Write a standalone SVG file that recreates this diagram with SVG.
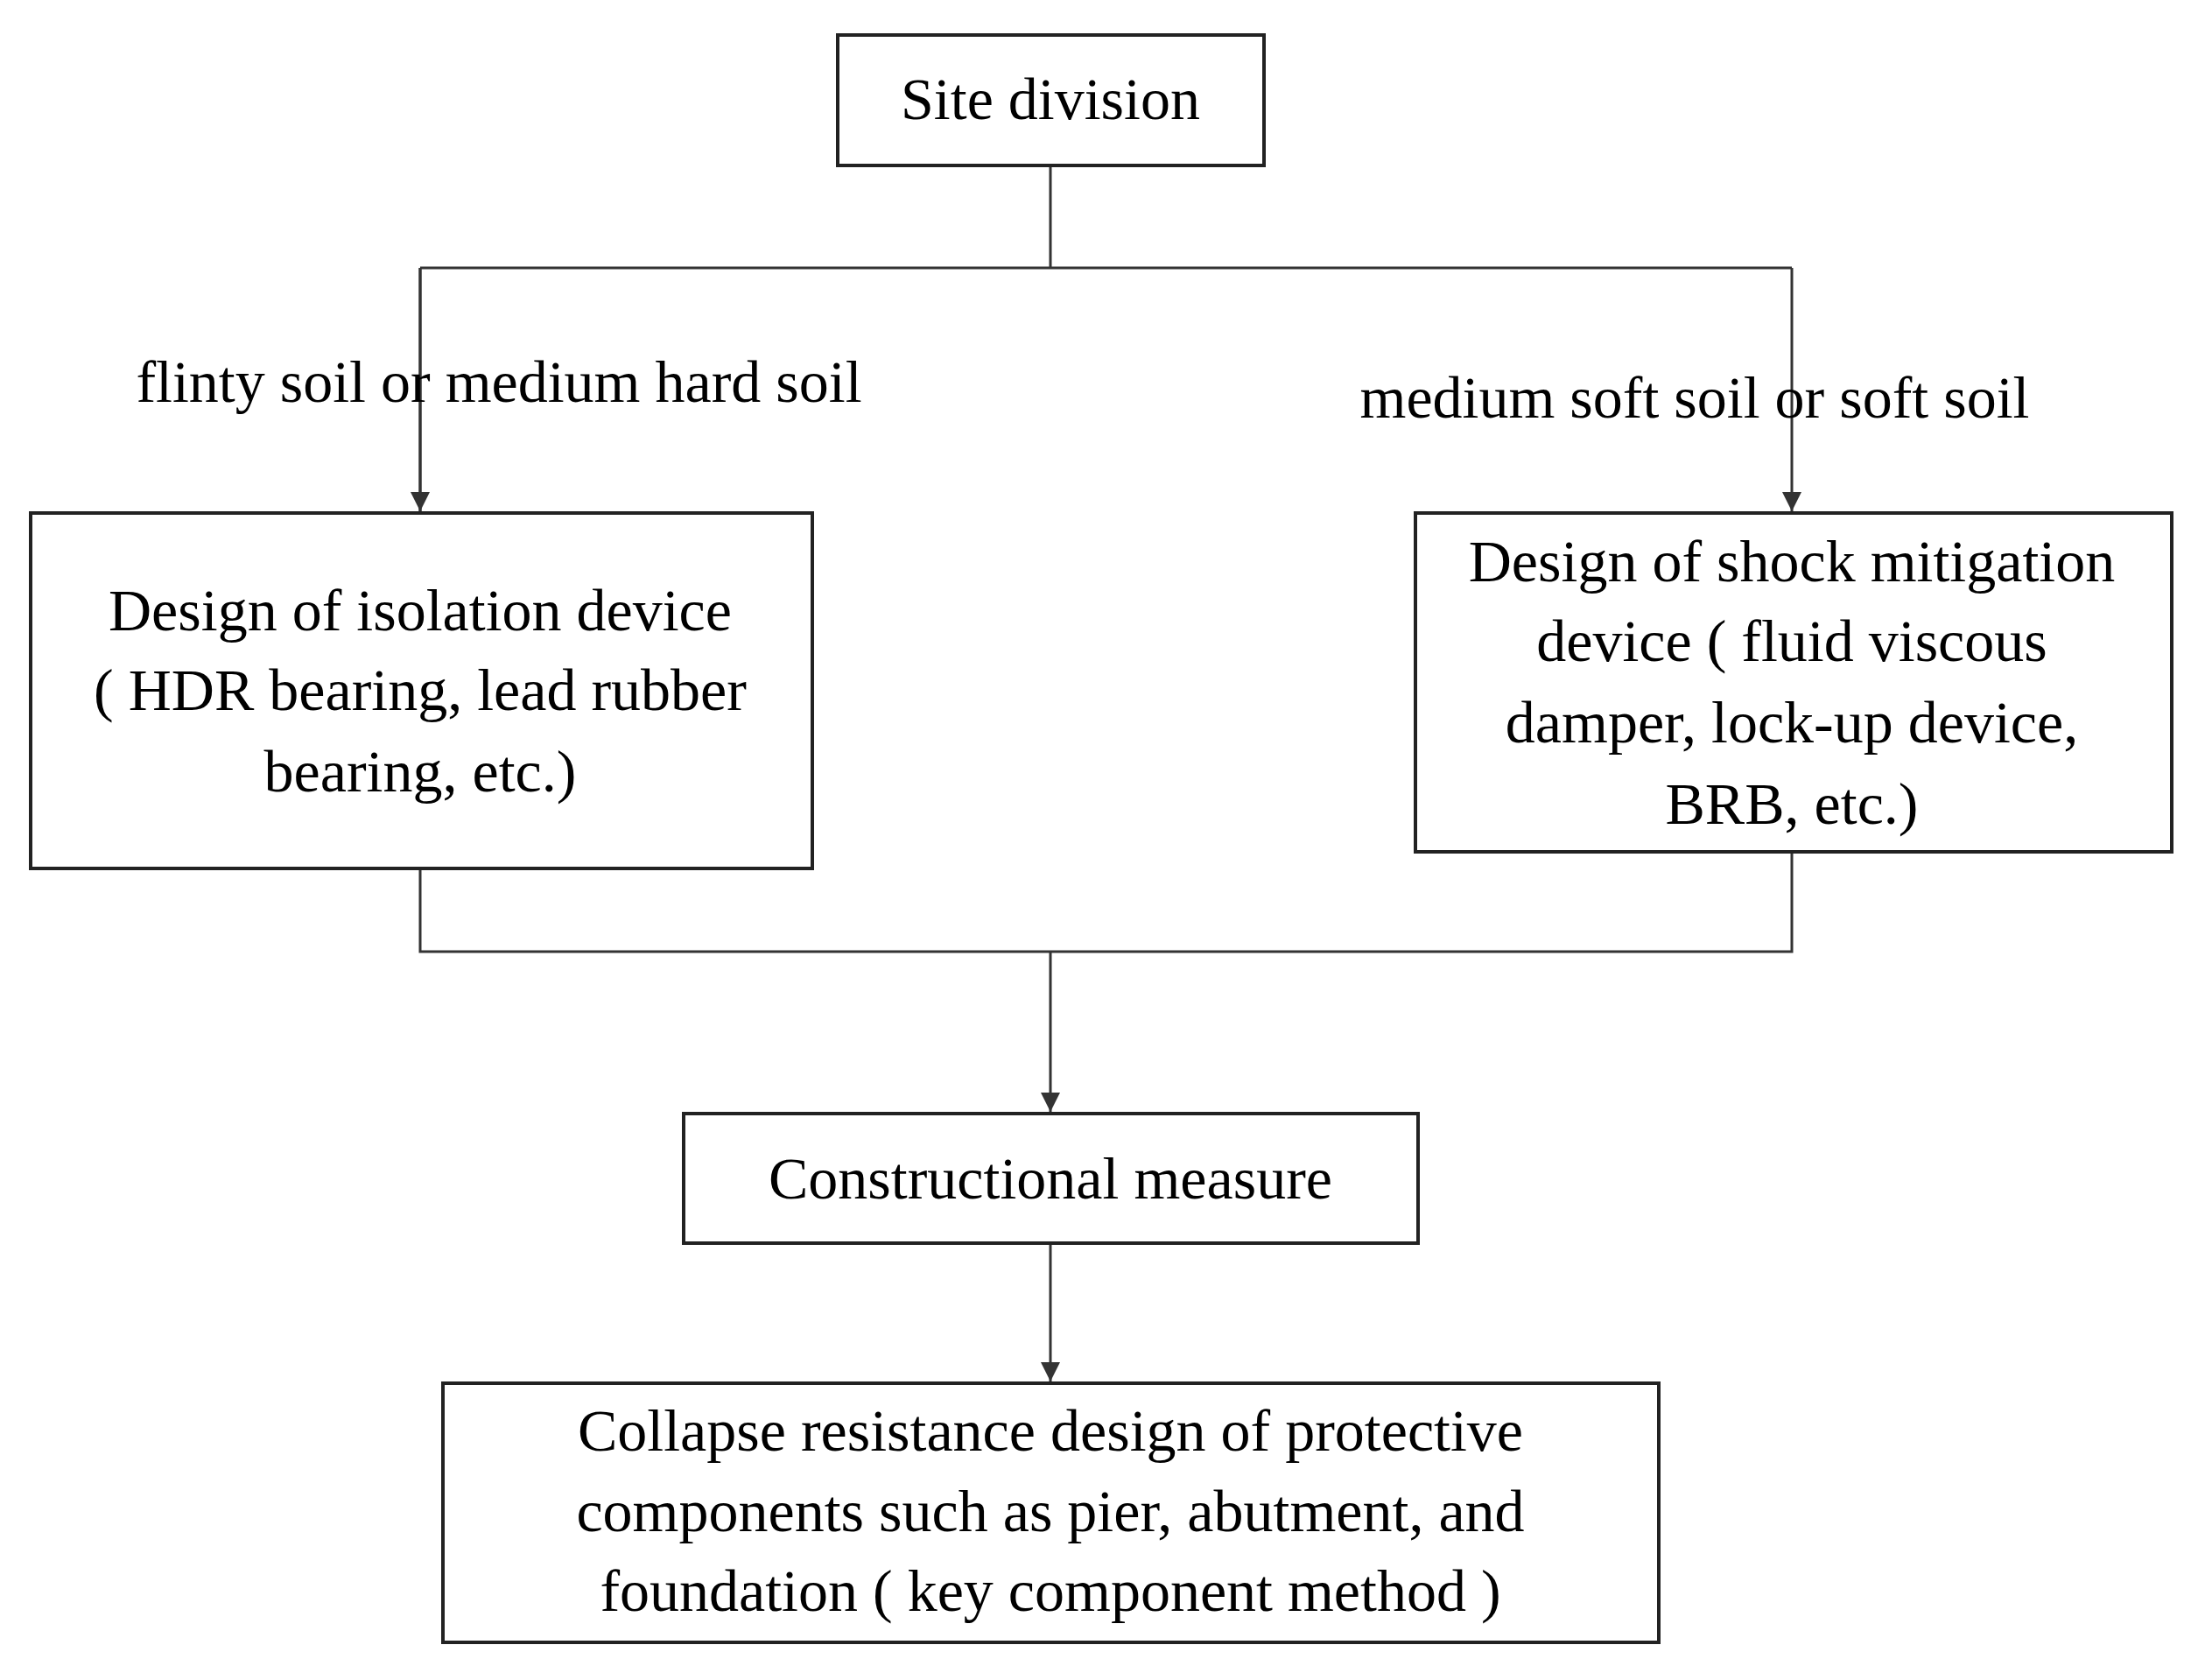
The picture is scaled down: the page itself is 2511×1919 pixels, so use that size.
<svg xmlns="http://www.w3.org/2000/svg" width="2511" height="1919" viewBox="0 0 2511 1919">
<defs><marker id="a" markerWidth="10" markerHeight="10" refX="9" refY="5" orient="auto" markerUnits="userSpaceOnUse" viewBox="0 0 10 10"><path d="M0,0 L10,5 L0,10 z" fill="#222"/></marker>
<marker id="b" viewBox="0 0 10 10" refX="10" refY="5" markerWidth="22" markerHeight="22" orient="auto" markerUnits="userSpaceOnUse"><path d="M0,0 L10,5 L0,10 z" fill="#333"/></marker></defs>
<style>rect{fill:#fff;stroke:#222;stroke-width:4}text{font-family:"Liberation Serif",serif;font-size:68px;fill:#000;text-anchor:middle}.c{fill:none;stroke:#333;stroke-width:3}</style>
<rect width="2511" height="1919" style="stroke:none"/>
<g id="connectors">
<path class="c" d="M1200,189V306M480,306H2047M480,306V584M2047,306V584" marker-end="url(#b)"/>
<path class="c" d="M480,306V584" marker-end="url(#b)"/>
<path class="c" d="M480,992V1087H2047V973M1200,1087V1270" marker-end="url(#b)"/>
<path class="c" d="M1200,1420V1578" marker-end="url(#b)"/>
</g>
<g id="n1"><rect x="957" y="40" width="487" height="149"/><text x="1200" y="136">Site division</text></g>
<g id="l1"><text x="570" y="459">flinty soil or medium hard soil</text></g>
<g id="l2"><text x="1936" y="477">medium soft soil or soft soil</text></g>
<g id="n2"><rect x="35" y="586" width="893" height="406"/><text x="480" y="720">Design of isolation device</text><text x="480" y="811">( HDR bearing, lead rubber</text><text x="480" y="904">bearing, etc.)</text></g>
<g id="n3"><rect x="1617" y="586" width="864" height="387"/><text x="2047" y="664">Design of shock mitigation</text><text x="2047" y="755">device ( fluid viscous</text><text x="2047" y="848">damper, lock-up device,</text><text x="2047" y="941">BRB, etc.)</text></g>
<g id="n4"><rect x="781" y="1272" width="839" height="148"/><text x="1200" y="1369">Constructional measure</text></g>
<g id="n5"><rect x="506" y="1580" width="1389" height="296"/><text x="1200" y="1657">Collapse resistance design of protective</text><text x="1200" y="1749">components such as pier, abutment, and</text><text x="1200" y="1840">foundation ( key component method )</text></g>
</svg>
